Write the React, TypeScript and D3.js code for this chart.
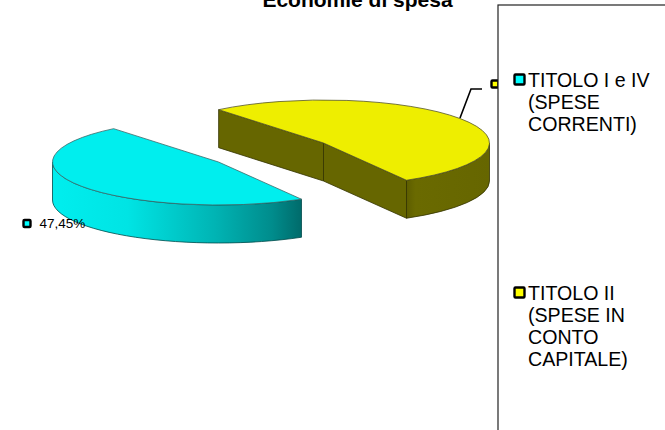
import React from 'react'
import * as d3 from 'd3'

const title = 'Economie di spesa'
const categories = ['TITOLO I e IV', 'TITOLO II']
const legendLines = [
  ['TITOLO I e IV', '(SPESE', 'CORRENTI)'],
  ['TITOLO II', '(SPESE IN', 'CONTO', 'CAPITALE)'],
]
const values = [47.45, 52.55]
const valueLabel = '47,45%'
const colors = ['#00eeee', '#eeee00']
const markerColors = ['#00ffff', '#ffff00']

const width = 665
const height = 430
const rx = 166
const ry = 43
const depth = 38
const centers = [
  [218.5, 162],
  [323.5, 143],
]
const legendY = [79.5, 292.5]
const legendBase = [86.5, 299.5]

const rad = (deg: number) => (deg * Math.PI) / 180

const slices = d3
  .pie<number>()
  .sort(null)
  .startAngle(rad(150))
  .endAngle(rad(510))(values)

// d3 angle (0 = 12 o'clock) to a point on the squashed pie
const pt = (c: number[], a: number, dy = 0): [number, number] => [
  c[0] + rx * Math.sin(a),
  c[1] - ry * Math.cos(a) + dy,
]

const rimPath = (c: number[], a0: number, a1: number, dy = 0) => {
  const p = pt(c, a1, dy)
  const large = Math.abs(a1 - a0) > Math.PI ? 1 : 0
  const sweep = a1 > a0 ? 1 : 0
  return `A${rx},${ry} 0 ${large} ${sweep} ${p[0]},${p[1]}`
}

const topPath = (c: number[], a0: number, a1: number) => {
  const p = pt(c, a0)
  return `M${c[0]},${c[1]}L${p[0]},${p[1]}${rimPath(c, a0, a1)}Z`
}

// outer wall between two angles, only the part facing the viewer
const wallPath = (c: number[], a0: number, a1: number) => {
  const p0 = pt(c, a0)
  const p1 = pt(c, a1, depth)
  return `M${p0[0]},${p0[1]}${rimPath(c, a0, a1)}L${p1[0]},${p1[1]}${rimPath(c, a1, a0, depth)}Z`
}

const facePath = (c: number[], a: number) => {
  const p = pt(c, a)
  return `M${c[0]},${c[1]}L${p[0]},${p[1]}L${p[0]},${p[1] + depth}L${c[0]},${c[1] + depth}Z`
}

const Marker = ({ x, y, fill, size, sw }: { x: number; y: number; fill: string; size: number; sw: number }) => (
  <rect x={x - size / 2} y={y - size / 2} width={size} height={size} rx={1} fill={fill} stroke="#000" strokeWidth={sw} />
)

export default function App() {
  const [cyan, yellow] = slices
  const cC = centers[0]
  const cY = centers[1]
  const edge = '#333300'
  const leader = d3.line()([
    [460, 118],
    [471, 89],
    [482, 89],
  ])
  return (
    <svg
      width={width}
      height={height}
      style={{ position: 'absolute', left: 0, top: 0, fontFamily: 'Liberation Sans, Arial, sans-serif' }}
    >
      <defs>
        <linearGradient id="cyanWall" gradientUnits="userSpaceOnUse" x1={53} x2={302} y1={0} y2={0}>
          <stop offset="0" stopColor="#00eeee" />
          <stop offset="0.3" stopColor="#00e4e4" />
          <stop offset="0.65" stopColor="#00b4b4" />
          <stop offset="0.88" stopColor="#008c8c" />
          <stop offset="1" stopColor="#006a6a" />
        </linearGradient>
        <linearGradient id="yellowWall" gradientUnits="userSpaceOnUse" x1={407} x2={490} y1={0} y2={0}>
          <stop offset="0" stopColor="#5e5e00" />
          <stop offset="0.1" stopColor="#6a6a00" />
          <stop offset="1" stopColor="#666600" />
        </linearGradient>
      </defs>

      <text x={357.5} y={6.5} textAnchor="middle" fontSize={21} fontWeight="bold">
        {title}
      </text>

      {/* cyan slice: only the rim from the far left to the cut edge shows */}
      <path d={wallPath(cC, cyan.startAngle, rad(270))} fill="url(#cyanWall)" stroke="#004a4a" strokeWidth={0.8} />
      <path d={topPath(cC, cyan.startAngle, cyan.endAngle)} fill={colors[0]} stroke="#3c6a6a" strokeWidth={0.8} />

      {/* yellow slice */}
      <path d={facePath(cY, yellow.startAngle)} fill="#666600" stroke={edge} strokeWidth={0.8} />
      <path d={facePath(cY, yellow.endAngle)} fill="#666600" stroke={edge} strokeWidth={0.8} />
      <path d={wallPath(cY, rad(450), yellow.endAngle)} fill="url(#yellowWall)" stroke={edge} strokeWidth={0.8} />
      <path d={topPath(cY, yellow.startAngle, yellow.endAngle)} fill={colors[1]} stroke="#55552a" strokeWidth={0.8} />

      <path d={leader ?? ''} fill="none" stroke="#000" strokeWidth={1.6} />

      <Marker x={27} y={223.5} fill={markerColors[0]} size={7} sw={2.4} />
      <text x={39.5} y={228} fontSize={13.5} fill="#000">
        {valueLabel}
      </text>
      <Marker x={495} y={84} fill={markerColors[1]} size={7} sw={2.4} />

      <rect x={498} y={5} width={200} height={440} fill="#fff" stroke="#222" strokeWidth={1.2} />

      {categories.map((c, i) => (
        <g key={c}>
          <Marker x={519.5} y={legendY[i]} fill={markerColors[i]} size={10} sw={2.4} />
          {legendLines[i].map((line, j) => (
            <text key={line} x={528} y={legendBase[i] + j * 22.1} fontSize={19.6} fill="#000">
              {line}
            </text>
          ))}
        </g>
      ))}
    </svg>
  )
}
